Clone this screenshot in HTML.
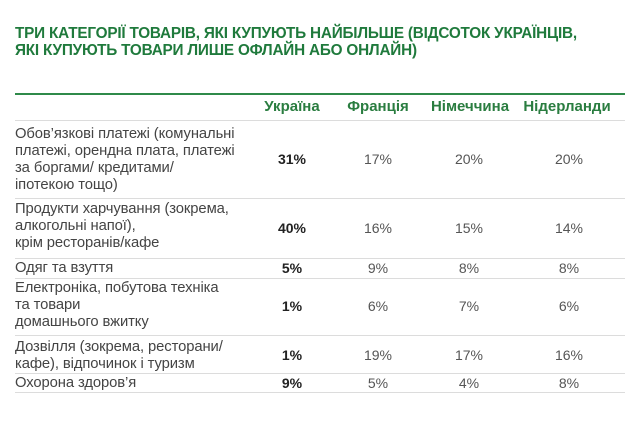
<!DOCTYPE html>
<html><head><meta charset="utf-8"><style>
body{margin:0;width:640px;height:441px;background:#fff;position:relative;overflow:hidden;font-family:"Liberation Sans","DejaVu Sans",sans-serif;}
.t{position:absolute;left:15px;top:25px;font-weight:bold;font-size:15.3px;line-height:17px;color:#1f7a3c;letter-spacing:-0.2px;white-space:nowrap}
.gl{position:absolute;left:15px;width:610px;height:2px;background:#2f8a4a;top:93px}
.l{position:absolute;left:15px;width:610px;height:1px;background:#dcdcdc}
.h{position:absolute;top:98px;font-weight:bold;font-size:15px;color:#2a7d40;transform:translateX(-50%);white-space:nowrap}
.r{position:absolute;left:15px;font-size:14.8px;line-height:17px;color:#444;white-space:nowrap;letter-spacing:-0.1px}
.v{position:absolute;font-size:14px;color:#555;transform:translate(-50%,-50%);}
.b{font-weight:bold;color:#222}
</style></head><body>
<div class="t">ТРИ КАТЕГОРІЇ ТОВАРІВ, ЯКІ КУПУЮТЬ НАЙБІЛЬШЕ (ВІДСОТОК УКРАЇНЦІВ,<br>ЯКІ КУПУЮТЬ ТОВАРИ ЛИШЕ ОФЛАЙН АБО ОНЛАЙН)</div>
<div class="gl"></div>
<div class="h" style="left:292px">Україна</div>
<div class="h" style="left:378px">Франція</div>
<div class="h" style="left:470px">Німеччина</div>
<div class="h" style="left:567px">Нідерланди</div>
<div class="l" style="top:120px"></div>
<div class="l" style="top:198px"></div>
<div class="l" style="top:258px"></div>
<div class="l" style="top:278px"></div>
<div class="l" style="top:335px"></div>
<div class="l" style="top:373px"></div>
<div class="l" style="top:392px"></div>

<div class="r" style="top:126px">Обов’язкові платежі (комунальні<br>платежі, орендна плата, платежі<br>за боргами/ кредитами/<br>іпотекою тощо)</div>
<div class="r" style="top:201px">Продукти харчування (зокрема,<br>алкогольні напої),<br>крім ресторанів/кафе</div>
<div class="r" style="top:260px">Одяг та взуття</div>
<div class="r" style="top:280px">Електроніка, побутова техніка<br>та товари<br>домашнього вжитку</div>
<div class="r" style="top:339px">Дозвілля (зокрема, ресторани/<br>кафе), відпочинок і туризм</div>
<div class="r" style="top:375px">Охорона здоров’я</div>

<div class="v b" style="left:292px;top:159px">31%</div><div class="v" style="left:378px;top:159px">17%</div><div class="v" style="left:469px;top:159px">20%</div><div class="v" style="left:569px;top:159px">20%</div>
<div class="v b" style="left:292px;top:228px">40%</div><div class="v" style="left:378px;top:228px">16%</div><div class="v" style="left:469px;top:228px">15%</div><div class="v" style="left:569px;top:228px">14%</div>
<div class="v b" style="left:292px;top:268px">5%</div><div class="v" style="left:378px;top:268px">9%</div><div class="v" style="left:469px;top:268px">8%</div><div class="v" style="left:569px;top:268px">8%</div>
<div class="v b" style="left:292px;top:306px">1%</div><div class="v" style="left:378px;top:306px">6%</div><div class="v" style="left:469px;top:306px">7%</div><div class="v" style="left:569px;top:306px">6%</div>
<div class="v b" style="left:292px;top:355px">1%</div><div class="v" style="left:378px;top:355px">19%</div><div class="v" style="left:469px;top:355px">17%</div><div class="v" style="left:569px;top:355px">16%</div>
<div class="v b" style="left:292px;top:383px">9%</div><div class="v" style="left:378px;top:383px">5%</div><div class="v" style="left:469px;top:383px">4%</div><div class="v" style="left:569px;top:383px">8%</div>
</body></html>
